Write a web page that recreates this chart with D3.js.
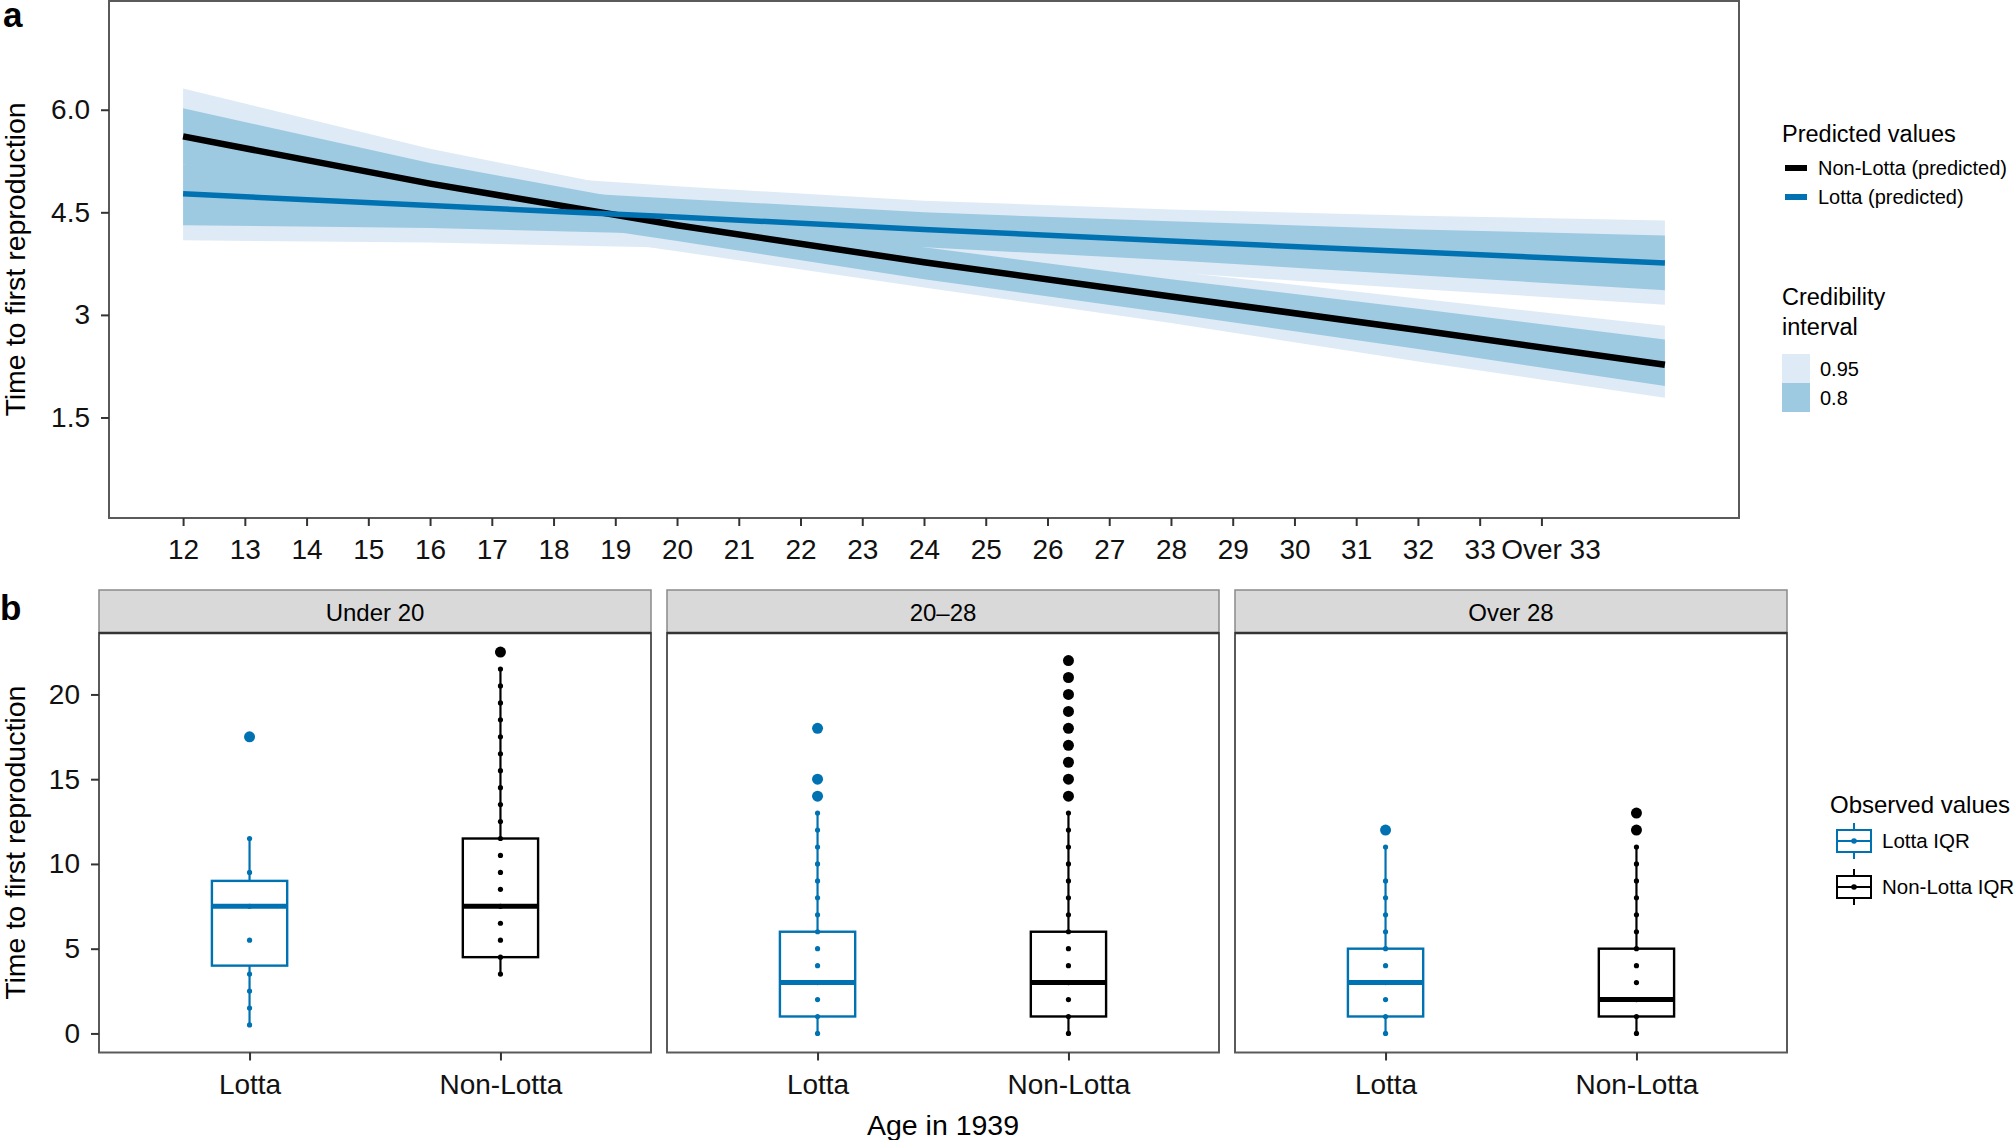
<html>
<head>
<meta charset="utf-8">
<style>
    body {
        margin: 0;
        background: white;
        font-family: "Liberation Sans", Arial, Helvetica, sans-serif;
    }
    .axis text {
        font-family: "Liberation Sans", Arial, Helvetica, sans-serif;
        fill: #111;
    }
    .axis line {
        stroke: #333;
        stroke-width: 2;
    }
    .axis path {
        display: none;
    }
</style>
<script src="https://cdn.jsdelivr.net/npm/d3@7"></script>
</head>
<body>
<svg id="chart" width="2016" height="1140"></svg>

<script>
    // ---- panel a : predicted values ----
    let predAges = [12, 16, 20, 24, 28, 32, 36]
    let nonLottaMean = [5.61, 4.92, 4.31, 3.77, 3.27, 2.78, 2.27]
    let nonLottaLo95 = [4.95, 4.45, 3.93, 3.40, 2.88, 2.32, 1.79]
    let nonLottaHi95 = [6.31, 5.43, 4.71, 4.15, 3.64, 3.24, 2.84]
    let nonLottaLo80 = [5.20, 4.62, 4.08, 3.52, 3.02, 2.50, 1.96]
    let nonLottaHi80 = [6.02, 5.22, 4.56, 3.99, 3.52, 3.09, 2.64]
    let lottaMean = [4.77, 4.60, 4.43, 4.25, 4.08, 3.92, 3.76]
    let lottaLo95 = [4.09, 4.06, 3.98, 3.79, 3.62, 3.38, 3.15]
    let lottaHi95 = [5.45, 5.12, 4.88, 4.67, 4.54, 4.45, 4.38]
    let lottaLo80 = [4.31, 4.27, 4.18, 3.99, 3.80, 3.58, 3.36]
    let lottaHi80 = [5.20, 4.90, 4.70, 4.50, 4.37, 4.25, 4.16]

    let ageTicks = [12, 13, 14, 15, 16, 17, 18, 19, 20, 21, 22, 23, 24, 25, 26, 27, 28, 29, 30, 31, 32, 33, 34]
    let ageTickLabels = ["12", "13", "14", "15", "16", "17", "18", "19", "20", "21", "22", "23", "24", "25", "26", "27", "28", "29", "30", "31", "32", "33", "Over 33"]
    let predYTicks = [1.5, 3, 4.5, 6]
    let predYLabels = ["1.5", "3", "4.5", "6.0"]

    // ---- panel b : observed values ----
    let facetLabels = ["Under 20", "20\u201328", "Over 28"]
    let boxGroups = ["Lotta", "Non-Lotta"]
    // [facet][group]
    let boxQ1 = [[4, 4.5], [1, 1], [1, 1]]
    let boxMedian = [[7.5, 7.5], [3, 3], [3, 2]]
    let boxQ3 = [[9, 11.5], [6, 6], [5, 5]]
    let whiskerLow = [[0.5, 3.5], [0, 0], [0, 0]]
    let whiskerHigh = [[11.5, 21.5], [13, 13], [11, 11]]
    let outliers = [
        [[17.5], [22.5]],
        [[14, 15, 18], [14, 15, 16, 17, 18, 19, 20, 21, 22]],
        [[12], [12, 13]]
    ]
    let obsPoints = [
        [[0.5, 1.5, 2.5, 3.5, 5.5, 7.5, 9.5, 11.5],
         [3.5, 4.5, 5.5, 6.5, 7.5, 8.5, 9.5, 10.5, 11.5, 12.5, 13.5, 14.5, 15.5, 16.5, 17.5, 18.5, 19.5, 20.5, 21.5]],
        [[0, 1, 2, 3, 4, 5, 6, 7, 8, 9, 10, 11, 12, 13],
         [0, 1, 2, 3, 4, 5, 6, 7, 8, 9, 10, 11, 12, 13]],
        [[0, 1, 2, 3, 4, 5, 6, 7, 8, 9, 11],
         [0, 1, 2, 3, 4, 5, 6, 7, 8, 9, 10, 11]]
    ]
    let obsYTicks = [0, 5, 10, 15, 20]

    let colors = {"Lotta": "#0072B2", "Non-Lotta": "#000000"}
    let lightBand = "#deebf7"
    let darkBand = "#9ecae1"
    let font = "'Liberation Sans', Arial, Helvetica, sans-serif"

    let svg = d3.select("#chart")

    function drawPanelA() {
        let left = 109, right = 1739, top = 1, bottom = 518

        let x = d3.scaleLinear().domain([10.8, 37.2]).range([left, right])
        let y = d3.scaleLinear().domain([0.03, 7.59]).range([bottom, top])

        let rows = predAges.map((a, i) => ({
            age: a,
            nm: nonLottaMean[i], nl95: nonLottaLo95[i], nh95: nonLottaHi95[i], nl80: nonLottaLo80[i], nh80: nonLottaHi80[i],
            lm: lottaMean[i], ll95: lottaLo95[i], lh95: lottaHi95[i], ll80: lottaLo80[i], lh80: lottaHi80[i]
        }))

        let band = (lo, hi) => d3.area().x(d => x(d.age)).y0(d => y(d[lo])).y1(d => y(d[hi]))
        let line = key => d3.line().x(d => x(d.age)).y(d => y(d[key]))

        let g = svg.append("g")
        // light (0.95) ribbons first, then dark (0.8) ones on top
        g.append("path").attr("d", band("nl95", "nh95")(rows)).attr("fill", lightBand)
        g.append("path").attr("d", band("ll95", "lh95")(rows)).attr("fill", lightBand)
        g.append("path").attr("d", band("nl80", "nh80")(rows)).attr("fill", darkBand)
        g.append("path").attr("d", band("ll80", "lh80")(rows)).attr("fill", darkBand)

        g.append("path").attr("d", line("nm")(rows))
            .attr("fill", "none").attr("stroke", colors["Non-Lotta"]).attr("stroke-width", 6.5)
        g.append("path").attr("d", line("lm")(rows))
            .attr("fill", "none").attr("stroke", colors["Lotta"]).attr("stroke-width", 5.5)

        svg.append("rect")
            .attr("x", left).attr("y", top)
            .attr("width", right - left).attr("height", bottom - top)
            .attr("fill", "none").attr("stroke", "#5a5a5a").attr("stroke-width", 2)

        let xAxis = d3.axisBottom(x)
            .tickValues(ageTicks)
            .tickFormat((d, i) => ageTickLabels[i])
            .tickSize(8).tickPadding(13)
        svg.append("g").attr("class", "axis")
            .attr("transform", `translate(0, ${bottom})`)
            .call(xAxis)
            .selectAll("text").style("font-size", "28px")
            .attr("dx", d => d == 34 ? 9 : 0)

        let yAxis = d3.axisLeft(y)
            .tickValues(predYTicks)
            .tickFormat((d, i) => predYLabels[i])
            .tickSize(8).tickPadding(11)
        svg.append("g").attr("class", "axis")
            .attr("transform", `translate(${left}, 0)`)
            .call(yAxis)
            .selectAll("text").style("font-size", "28px")

        svg.append("text")
            .attr("transform", `translate(25, ${(top + bottom) / 2}) rotate(-90)`)
            .attr("text-anchor", "middle")
            .style("font-family", font).style("font-size", "28.5px")
            .text("Time to first reproduction")

        svg.append("text")
            .attr("x", 3).attr("y", 27)
            .style("font-family", font).style("font-size", "35px").style("font-weight", "bold")
            .text("a")

        // legend: predicted values
        let lg = svg.append("g").attr("transform", "translate(1782, 0)")
        lg.append("text").attr("x", 0).attr("y", 142)
            .style("font-family", font).style("font-size", "23.5px")
            .text("Predicted values")
        let predKeys = [["Non-Lotta (predicted)", colors["Non-Lotta"], 168], ["Lotta (predicted)", colors["Lotta"], 197]]
        predKeys.forEach(k => {
            lg.append("rect").attr("x", 3).attr("y", k[2] - 3).attr("width", 22).attr("height", 6).attr("fill", k[1])
            lg.append("text").attr("x", 36).attr("y", k[2] + 7)
                .style("font-family", font).style("font-size", "20px")
                .text(k[0])
        })
        lg.append("text").attr("x", 0).attr("y", 305)
            .style("font-family", font).style("font-size", "23.5px")
            .text("Credibility")
        lg.append("text").attr("x", 0).attr("y", 335)
            .style("font-family", font).style("font-size", "23.5px")
            .text("interval")
        let ciKeys = [["0.95", lightBand, 354], ["0.8", darkBand, 383]]
        ciKeys.forEach(k => {
            lg.append("rect").attr("x", 0).attr("y", k[2]).attr("width", 28).attr("height", 29).attr("fill", k[1])
            lg.append("text").attr("x", 38).attr("y", k[2] + 22)
                .style("font-family", font).style("font-size", "20px")
                .text(k[0])
        })
    }

    function drawPanelB() {
        let panelLefts = [99, 667, 1235]
        let panelWidth = 552
        let stripTop = 590, stripBottom = 633, bottom = 1052.5

        let y = d3.scaleLinear().domain([-1.125, 23.625]).range([bottom, stripBottom])

        facetLabels.forEach((label, f) => {
            let left = panelLefts[f]
            // discrete scale with 0.6 expansion on each side
            let unit = panelWidth / 2.2
            let xPos = g => left + (0.6 + boxGroups.indexOf(g)) * unit
            let halfBox = 0.15 * unit

            let pg = svg.append("g")

            boxGroups.forEach((grp, gi) => {
                let cx = xPos(grp)
                let col = colors[grp]
                // whiskers
                pg.append("line").attr("x1", cx).attr("x2", cx)
                    .attr("y1", y(boxQ3[f][gi])).attr("y2", y(whiskerHigh[f][gi]))
                    .attr("stroke", col).attr("stroke-width", 2.2)
                pg.append("line").attr("x1", cx).attr("x2", cx)
                    .attr("y1", y(boxQ1[f][gi])).attr("y2", y(whiskerLow[f][gi]))
                    .attr("stroke", col).attr("stroke-width", 2.2)
                // box
                pg.append("rect")
                    .attr("x", cx - halfBox).attr("width", 2 * halfBox)
                    .attr("y", y(boxQ3[f][gi])).attr("height", y(boxQ1[f][gi]) - y(boxQ3[f][gi]))
                    .attr("fill", "white").attr("stroke", col).attr("stroke-width", 2.4)
                pg.append("line").attr("x1", cx - halfBox).attr("x2", cx + halfBox)
                    .attr("y1", y(boxMedian[f][gi])).attr("y2", y(boxMedian[f][gi]))
                    .attr("stroke", col).attr("stroke-width", 5)
                // outliers
                pg.selectAll(null).data(outliers[f][gi]).enter().append("circle")
                    .attr("cx", cx).attr("cy", d => y(d)).attr("r", 5.5).attr("fill", col)
                // observed points
                pg.selectAll(null).data(obsPoints[f][gi]).enter().append("circle")
                    .attr("cx", cx).attr("cy", d => y(d)).attr("r", 2.6).attr("fill", col)
            })

            // strip
            svg.append("rect")
                .attr("x", left).attr("y", stripTop)
                .attr("width", panelWidth).attr("height", stripBottom - stripTop)
                .attr("fill", "#d9d9d9").attr("stroke", "#8a8a8a").attr("stroke-width", 1.5)
            svg.append("text")
                .attr("x", left + panelWidth / 2).attr("y", stripTop + 31)
                .attr("text-anchor", "middle")
                .style("font-family", font).style("font-size", "24px")
                .text(label)
            // panel border
            svg.append("rect")
                .attr("x", left).attr("y", stripBottom)
                .attr("width", panelWidth).attr("height", bottom - stripBottom)
                .attr("fill", "none").attr("stroke", "#5a5a5a").attr("stroke-width", 2)
            svg.append("line")
                .attr("x1", left).attr("x2", left + panelWidth)
                .attr("y1", stripBottom).attr("y2", stripBottom)
                .attr("stroke", "#333").attr("stroke-width", 2.5)

            let xb = d3.scaleOrdinal().domain(boxGroups).range(boxGroups.map(xPos))
            let xAxis = d3.axisBottom(xb).tickSize(8).tickPadding(14)
            svg.append("g").attr("class", "axis")
                .attr("transform", `translate(0, ${bottom})`)
                .call(xAxis)
                .selectAll("text").style("font-size", "28px")

            if (f == 0) {
                let yAxis = d3.axisLeft(y).tickValues(obsYTicks).tickSize(8).tickPadding(11)
                svg.append("g").attr("class", "axis")
                    .attr("transform", `translate(${left}, 0)`)
                    .call(yAxis)
                    .selectAll("text").style("font-size", "28px")
            }
        })

        svg.append("text")
            .attr("transform", `translate(25, ${(stripBottom + bottom) / 2}) rotate(-90)`)
            .attr("text-anchor", "middle")
            .style("font-family", font).style("font-size", "28.5px")
            .text("Time to first reproduction")

        svg.append("text")
            .attr("x", (panelLefts[0] + panelLefts[2] + panelWidth) / 2).attr("y", 1135)
            .attr("text-anchor", "middle")
            .style("font-family", font).style("font-size", "28.5px")
            .text("Age in 1939")

        svg.append("text")
            .attr("x", 0).attr("y", 620)
            .style("font-family", font).style("font-size", "35px").style("font-weight", "bold")
            .text("b")

        // legend: observed values
        let lg = svg.append("g")
        lg.append("text").attr("x", 1830).attr("y", 813)
            .style("font-family", font).style("font-size", "24px")
            .text("Observed values")
        let obsKeys = [["Lotta IQR", colors["Lotta"], 841], ["Non-Lotta IQR", colors["Non-Lotta"], 887]]
        obsKeys.forEach(k => {
            let cx = 1854, cy = k[2]
            lg.append("line").attr("x1", cx).attr("x2", cx).attr("y1", cy - 18).attr("y2", cy + 18)
                .attr("stroke", k[1]).attr("stroke-width", 2)
            lg.append("rect").attr("x", cx - 17).attr("y", cy - 11).attr("width", 34).attr("height", 22)
                .attr("fill", "white").attr("stroke", k[1]).attr("stroke-width", 2)
            lg.append("line").attr("x1", cx - 17).attr("x2", cx + 17).attr("y1", cy).attr("y2", cy)
                .attr("stroke", k[1]).attr("stroke-width", 2)
            lg.append("circle").attr("cx", cx).attr("cy", cy).attr("r", 2.8).attr("fill", k[1])
            lg.append("text").attr("x", 1882).attr("y", cy + 7)
                .style("font-family", font).style("font-size", "20.5px")
                .text(k[0])
        })
    }

    drawPanelA()
    drawPanelB()
</script>
</body>
</html>
